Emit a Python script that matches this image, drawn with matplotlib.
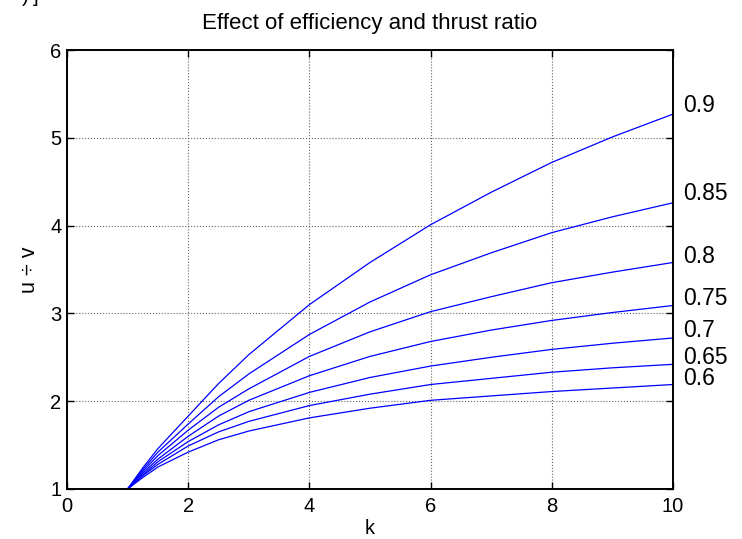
import matplotlib
matplotlib.use("Agg")
import matplotlib.pyplot as plt

# ---------------------------------------------------------
# Data
# ---------------------------------------------------------
k_values = [1, 1.25, 1.5, 2, 2.5, 3, 4, 5, 6, 7, 8, 9, 10]

eff_090 = [1, 1.24, 1.46, 1.83, 2.20, 2.53, 3.10, 3.58, 4.01, 4.38, 4.72, 5.01, 5.27]
eff_085 = [1, 1.22, 1.42, 1.74, 2.05, 2.31, 2.76, 3.13, 3.44, 3.69, 3.92, 4.10, 4.26]
eff_080 = [1, 1.20, 1.38, 1.67, 1.93, 2.14, 2.51, 2.79, 3.02, 3.19, 3.35, 3.47, 3.58]
eff_075 = [1, 1.18, 1.34, 1.60, 1.83, 2.01, 2.29, 2.51, 2.68, 2.81, 2.92, 3.01, 3.09]
eff_070 = [1, 1.16, 1.31, 1.54, 1.73, 1.88, 2.10, 2.27, 2.40, 2.50, 2.59, 2.66, 2.72]
eff_065 = [1, 1.15, 1.28, 1.49, 1.65, 1.77, 1.95, 2.08, 2.19, 2.26, 2.33, 2.38, 2.42]
eff_060 = [1, 1.13, 1.25, 1.42, 1.56, 1.66, 1.81, 1.92, 2.01, 2.06, 2.11, 2.15, 2.19]

curves = [eff_090, eff_085, eff_080, eff_075, eff_070, eff_065, eff_060]
curve_labels = ["0.9", "0.85", "0.8", "0.75", "0.7", "0.65", "0.6"]
# label heights (data units) at the right of the axes
label_y = [5.37, 4.37, 3.65, 3.17, 2.80, 2.50, 2.26]

plt.rcParams["font.family"] = ["Liberation Sans", "DejaVu Sans"]

fig = plt.figure(figsize=(7.42, 5.39), dpi=100)
ax = fig.add_axes([0.0903, 0.0928, 0.8167, 0.8144])

for vals in curves:
    ax.plot(k_values, vals, color="#0000ff", linewidth=0.9)

for lab, yv in zip(curve_labels, label_y):
    ax.text(10.17, yv, lab, fontsize=16.5, va="center", ha="left")

ax.set_xlim(0, 10)
ax.set_ylim(1, 6)
ax.set_xticks(range(0, 11, 2))
ax.set_yticks(range(1, 7))

ax.grid(True, color="#666666", linestyle=":", linewidth=0.8)
ax.tick_params(direction="in", length=5, width=1, top=True, right=True,
               labelsize=14.5, colors="black")
ax.tick_params(axis="x", pad=6)
ax.tick_params(axis="y", pad=4)
for sp in ax.spines.values():
    sp.set_linewidth(1.4)

ax.set_title("Effect of efficiency and thrust ratio", fontsize=16, pad=15)
ax.set_xlabel("k", fontsize=14.5, labelpad=2)
ax.set_ylabel("u \u00f7 v", fontsize=15.5, labelpad=7)

# clipped fragment at the very top-left of the picture
fig.text(0.030, 1 - 2.5 / 539, ")\u2009]", fontsize=15, va="baseline", ha="left")

fig.savefig("out.png", dpi=100)
